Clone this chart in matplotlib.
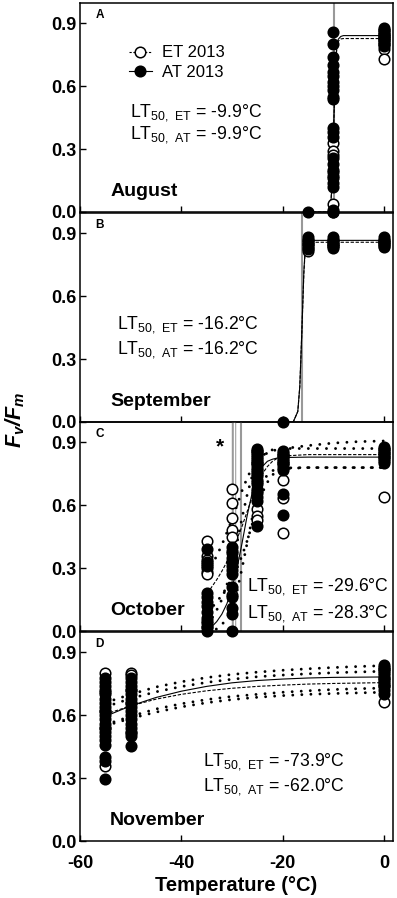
import matplotlib
matplotlib.use("Agg")
import matplotlib.pyplot as plt
from matplotlib.lines import Line2D

plt.rcParams["font.family"] = ["Liberation Sans", "DejaVu Sans"]
plt.rcParams["mathtext.default"] = "regular"

# Data
months = ["August", "September", "October", "November"]
panel_letters = ["A", "B", "C", "D"]

# scatter points: temperature -> Fv/Fm values
aug_et = {-10: [0.33, 0.29, 0.27, 0.20, 0.17, 0.04, 0.0],
          0: [0.87, 0.85, 0.84, 0.83, 0.82, 0.80, 0.78, 0.73]}
aug_at = {-15: [0.0],
          -10: [0.86, 0.80, 0.74, 0.70, 0.67, 0.65, 0.62, 0.60, 0.58, 0.55,
                0.54, 0.40, 0.38, 0.36, 0.26, 0.23, 0.19, 0.16, 0.14, 0.12,
                0.01, 0.0],
          0: [0.88, 0.87, 0.86, 0.85, 0.84, 0.83, 0.82, 0.81, 0.80, 0.79]}

sep_et = {-15: [0.87, 0.85, 0.83, 0.815],
          -10: [0.87, 0.85, 0.84],
          0: [0.87, 0.86, 0.85, 0.84]}
sep_at = {-20: [0.0],
          -15: [0.885, 0.87, 0.86, 0.85, 0.84, 0.825],
          -10: [0.885, 0.87, 0.86, 0.85, 0.84, 0.83],
          0: [0.885, 0.87, 0.86, 0.85, 0.835]}

oct_et = {-35: [0.43, 0.36, 0.34, 0.32, 0.30, 0.28, 0.27, 0.05, 0.02],
          -30: [0.68, 0.61, 0.54, 0.48, 0.45, 0.38, 0.33, 0.17],
          -25: [0.86, 0.80, 0.75, 0.71, 0.67, 0.58, 0.55, 0.53],
          -20: [0.84, 0.80, 0.72, 0.635, 0.47],
          0: [0.87, 0.85, 0.83, 0.64]}
oct_at = {-35: [0.39, 0.33, 0.31, 0.18, 0.16, 0.14, 0.12, 0.09, 0.06, 0.04,
                0.02, 0.0],
          -30: [0.40, 0.37, 0.35, 0.33, 0.31, 0.29, 0.27, 0.21, 0.16, 0.11,
                0.08, 0.0],
          -25: [0.87, 0.86, 0.85, 0.84, 0.83, 0.82, 0.81, 0.80, 0.79, 0.78,
                0.77, 0.76, 0.74, 0.72, 0.70, 0.68, 0.66, 0.64, 0.62, 0.50],
          -20: [0.86, 0.85, 0.84, 0.83, 0.82, 0.81, 0.80, 0.79, 0.78, 0.77,
                0.655, 0.555],
          0: [0.88, 0.87, 0.86, 0.85, 0.84, 0.83, 0.82, 0.81, 0.80]}

nov_et = {-55: [0.80, 0.71, 0.62, 0.54, 0.36],
          -50: [0.80, 0.79, 0.72, 0.66, 0.515],
          0: [0.82, 0.78, 0.74, 0.665]}
nov_at = {-55: [0.78, 0.76, 0.74, 0.72, 0.70, 0.68, 0.66, 0.64, 0.62, 0.60,
                0.58, 0.56, 0.54, 0.52, 0.50, 0.48, 0.46, 0.40, 0.38, 0.295],
          -50: [0.78, 0.76, 0.74, 0.72, 0.70, 0.68, 0.66, 0.64, 0.62, 0.60,
                0.58, 0.56, 0.54, 0.52, 0.50, 0.455],
          0: [0.84, 0.83, 0.82, 0.81, 0.80, 0.79, 0.78, 0.77, 0.76, 0.75,
              0.74, 0.72, 0.70]}

# fitted curves
aug_fit_x = [-15, -11, -10.5, -10.2, -9.9, -9.6, -9.3, -9.0, -8.5, -8, 0]
aug_fit_at = [0, 0, 0.03, 0.15, 0.42, 0.68, 0.79, 0.825, 0.838, 0.842, 0.842]
aug_fit_et = [0, 0, 0.03, 0.15, 0.41, 0.67, 0.78, 0.815, 0.826, 0.828, 0.828]

sep_fit_x = [-20, -17.9, -17, -16.6, -16.2, -15.8, -15.5, -15.2, -15, 0]
sep_fit_at = [0, 0.0, 0.05, 0.17, 0.43, 0.72, 0.84, 0.865, 0.867, 0.867]
sep_fit_et = [0, 0.0, 0.05, 0.17, 0.43, 0.71, 0.83, 0.855, 0.858, 0.858]

oct_fit_x = [-34.8, -34, -33, -32, -31, -30, -29, -28, -27, -26, -25, -24,
             -23, -22, -21, -20, -15, -10, -5, 0]
oct_fit_at = [0.0, 0.02, 0.045, 0.08, 0.13, 0.2, 0.3, 0.42, 0.55, 0.66, 0.74,
              0.785, 0.81, 0.82, 0.826, 0.828, 0.83, 0.83, 0.83, 0.83]
oct_fit_et = [0.18, 0.21, 0.245, 0.285, 0.33, 0.385, 0.44, 0.50, 0.57, 0.64,
              0.70, 0.75, 0.785, 0.81, 0.825, 0.835, 0.842, 0.842, 0.842,
              0.842]
oct_bands = [
    [0.27, 0.31, 0.36, 0.41, 0.47, 0.53, 0.60, 0.67, 0.73, 0.78, 0.81, 0.835,
     0.85, 0.86, 0.866, 0.87, 0.885, 0.897, 0.904, 0.907],
    [0.03, 0.06, 0.10, 0.15, 0.22, 0.31, 0.42, 0.54, 0.65, 0.74, 0.80, 0.835,
     0.855, 0.865, 0.869, 0.871, 0.871, 0.871, 0.871, 0.871],
    [0.09, 0.11, 0.14, 0.17, 0.21, 0.25, 0.30, 0.36, 0.43, 0.51, 0.59, 0.66,
     0.71, 0.745, 0.765, 0.775, 0.78, 0.78, 0.78, 0.78],
    [0.0, 0.0, 0.01, 0.03, 0.06, 0.11, 0.19, 0.30, 0.42, 0.54, 0.64, 0.71,
     0.745, 0.765, 0.775, 0.778, 0.78, 0.78, 0.78, 0.78],
]

nov_fit_x = [-55, -50, -45, -40, -35, -30, -25, -20, -15, -10, -5, 0]
nov_fit_at = [0.595, 0.645, 0.685, 0.715, 0.738, 0.755, 0.766, 0.773, 0.778,
              0.781, 0.782, 0.783]
nov_fit_et = [0.605, 0.645, 0.677, 0.70, 0.717, 0.729, 0.738, 0.744, 0.749,
              0.752, 0.754, 0.756]
nov_bands = [
    [0.66, 0.70, 0.735, 0.76, 0.78, 0.795, 0.806, 0.815, 0.822, 0.828, 0.833,
     0.837],
    [0.64, 0.68, 0.712, 0.737, 0.757, 0.772, 0.784, 0.792, 0.798, 0.803, 0.807,
     0.81],
    [0.555, 0.595, 0.63, 0.655, 0.675, 0.69, 0.70, 0.71, 0.717, 0.723, 0.727,
     0.73],
    [0.55, 0.585, 0.615, 0.64, 0.66, 0.675, 0.686, 0.694, 0.70, 0.704, 0.707,
     0.71],
]

lt50_et = [-9.9, -16.2, -29.6, -73.9]
lt50_at = [-9.9, -16.2, -28.3, -62.0]

# Figure
fig = plt.figure(figsize=(3.97, 8.98), dpi=100)
left, width = 80 / 397, 313 / 397
bottoms = [686 / 898, 476 / 898, 267 / 898, 57 / 898]
height = 209.5 / 898

lt_pos = [(0.16, 0.474, 0.368), (0.118, 0.464, 0.345),
          (0.533, 0.212, 0.085), (0.393, 0.38, 0.26)]

panels = [
    (aug_et, aug_at, aug_fit_x, aug_fit_et, aug_fit_at, None, None),
    (sep_et, sep_at, sep_fit_x, sep_fit_et, sep_fit_at, None, None),
    (oct_et, oct_at, oct_fit_x, oct_fit_et, oct_fit_at, oct_fit_x, oct_bands),
    (nov_et, nov_at, nov_fit_x, nov_fit_et, nov_fit_at, nov_fit_x, nov_bands),
]

for i, (et, at, fx, fet, fat, bx, bands) in enumerate(panels):
    ax = fig.add_axes([left, bottoms[i], width, height])
    ax.patch.set_alpha(0)
    ax.set_xlim(-60, 1.8)
    ax.set_ylim(0, 1.0)

    # LT50 vertical lines
    if i == 2:
        ax.axvline(lt50_et[i], color="#999999", lw=3.2, zorder=1)
        ax.axvline(lt50_et[i], color="white", lw=1.0, zorder=1)
        ax.axvline(lt50_at[i], color="#999999", lw=1.5, zorder=1)
    elif lt50_et[i] > -60:
        ax.axvline(lt50_et[i], color="#999999", lw=1.5, zorder=1)

    # confidence bands
    if bands is not None:
        for b in bands:
            ax.plot(bx, b, color="black", lw=2.1, ls=(0, (0.01, 3.1)),
                    dash_capstyle="round", zorder=2)

    ax.plot(fx, fet, color="black", lw=0.8, ls=(0, (3, 1.5)), zorder=2)
    ax.plot(fx, fat, color="black", lw=0.8, zorder=2)

    for t, vals in et.items():
        ax.plot([t] * len(vals), vals, "o", ms=7.6, mfc="white", mec="black",
                mew=1.1, clip_on=False, zorder=3)
    for t, vals in at.items():
        ax.plot([t] * len(vals), vals, "o", ms=7.6, mfc="black", mec="black",
                mew=1.1, clip_on=False, zorder=4)

    ax.set_yticks([0, 0.3, 0.6, 0.9])
    ax.set_yticklabels(["0.0", "0.3", "0.6", "0.9"], fontweight="bold",
                       fontsize=13)
    ax.set_xticks([-60, -40, -20, 0])
    ax.tick_params(direction="in", length=4, width=1)
    ax.tick_params(axis="y", pad=2.5)
    ax.tick_params(axis="x", pad=10)
    for s in ax.spines.values():
        s.set_linewidth(1.1)
    if i < 3:
        ax.set_xticklabels([])
    else:
        ax.set_xticklabels(["-60", "-40", "-20", "0"], fontweight="bold",
                           fontsize=13)
        ax.set_xlabel("Temperature (\u00b0C)", fontweight="bold",
                      fontsize=14.5, labelpad=3)

    ax.text(0.05, 0.94, panel_letters[i], transform=ax.transAxes,
            fontweight="bold", fontsize=8.5, va="center")
    ax.text(0.096, 0.10, months[i], transform=ax.transAxes,
            fontweight="bold", fontsize=14, va="center")

    lx, ly1, ly2 = lt_pos[i]
    ax.text(lx, ly1, "LT$_{50,\\ ET}$ = %.1f\u00b0C" % lt50_et[i],
            transform=ax.transAxes, fontsize=12.7, va="center")
    ax.text(lx, ly2, "LT$_{50,\\ AT}$ = %.1f\u00b0C" % lt50_at[i],
            transform=ax.transAxes, fontsize=12.7, va="center")

    if i == 0:
        handles = [
            Line2D([], [], color="black", lw=0.8, ls=(0, (2, 1.5)), marker="o",
                   ms=7.6, mfc="white", mec="black", mew=1.1),
            Line2D([], [], color="black", lw=0.8, marker="o", ms=7.6,
                   mfc="black", mec="black", mew=1.1),
        ]
        ax.legend(handles, ["ET 2013", "AT 2013"], loc="upper left",
                  bbox_to_anchor=(0.155, 0.795), frameon=False, fontsize=12,
                  handlelength=1.4, handletextpad=0.6, labelspacing=0.25,
                  borderpad=0, borderaxespad=0)
    if i == 2:
        ax.text(-32.3, 0.88, "*", fontsize=15, fontweight="bold",
                ha="center", va="center")

fig.text(15 / 397, 1 - 420 / 898, "$F_v/F_m$", rotation=90, fontsize=15.5,
         fontweight="bold", fontstyle="italic", ha="center", va="center")

fig.savefig("out.png", dpi=100)
